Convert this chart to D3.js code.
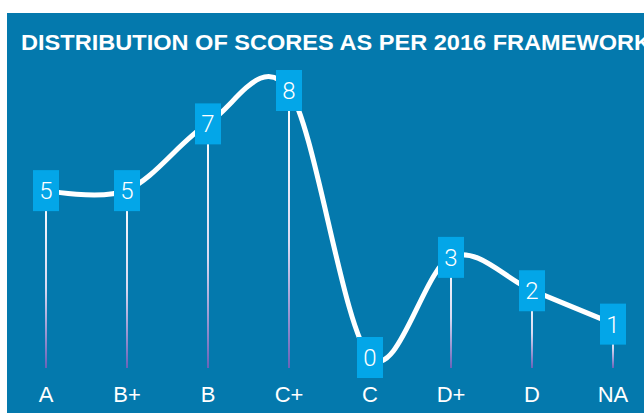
<!DOCTYPE html>
<html lang="en">

<head>
  <title>Distribution of scores</title>
  <script src="https://cdn.jsdelivr.net/npm/d3@7"></script>
  <style>
    body { margin: 0; background: #fff; }
    svg { display: block; }
  </style>
</head>

<body>
  <script>
    var grades = ["A", "B+", "B", "C+", "C", "D+", "D", "NA"];
    var counts = [5, 5, 7, 8, 0, 3, 2, 1];
    var title = "DISTRIBUTION OF SCORES AS PER 2016 FRAMEWORK";

    var w = 644;
    var h = 413;

    var x = d3.scalePoint()
      .domain(grades)
      .range([46, 613]);
    var y = d3.scaleLinear()
      .domain([0, 8])
      .range([357, 90]);
    var baseY = 368;

    var svg = d3.select("body").append("svg")
      .attr("width", w)
      .attr("height", h);

    var defs = svg.append("defs");
    var grad = defs.append("linearGradient")
      .attr("id", "stem")
      .attr("x1", 0).attr("y1", 0)
      .attr("x2", 0).attr("y2", 1);
    grad.append("stop").attr("offset", "0%").attr("stop-color", "#ffffff");
    grad.append("stop").attr("offset", "55%").attr("stop-color", "#d8daf2");
    grad.append("stop").attr("offset", "100%").attr("stop-color", "#6a62b8");

    // panel
    svg.append("rect")
      .attr("x", 7)
      .attr("y", 13)
      .attr("width", w - 7)
      .attr("height", h - 13)
      .attr("fill", "#0479ad");

    svg.append("text")
      .attr("x", 21)
      .attr("y", 50)
      .attr("fill", "#fff")
      .attr("font-family", "'Liberation Sans', Arial, sans-serif")
      .attr("font-weight", "bold")
      .attr("font-size", 22.5)
      .attr("textLength", 630)
      .attr("lengthAdjust", "spacingAndGlyphs")
      .text(title);

    var data = grades.map(function (g, i) { return { grade: g, value: counts[i] }; });

    // stems
    svg.selectAll(".stem")
      .data(data)
      .enter()
      .append("rect")
      .classed("stem", true)
      .attr("x", function (d) { return x(d.grade) - 1; })
      .attr("y", function (d) { return y(d.value); })
      .attr("width", 2)
      .attr("height", function (d) { return Math.max(0, baseY - y(d.value)); })
      .attr("fill", "url(#stem)");

    var line = d3.line()
      .x(function (d) { return x(d.grade); })
      .y(function (d) { return y(d.value); })
      .curve(d3.curveCardinal);

    svg.append("path")
      .datum(data)
      .attr("d", line)
      .attr("fill", "none")
      .attr("stroke", "#fff")
      .attr("stroke-width", 5);

    var boxes = svg.selectAll(".box")
      .data(data)
      .enter()
      .append("g")
      .classed("box", true)
      .attr("transform", function (d) {
        return "translate(" + x(d.grade) + "," + y(d.value) + ")";
      });
    boxes.append("rect")
      .attr("x", -13)
      .attr("y", -20)
      .attr("width", 26)
      .attr("height", 41)
      .attr("fill", "#03a6e8");
    boxes.append("text")
      .attr("y", 9)
      .attr("text-anchor", "middle")
      .attr("fill", "#fff")
      .attr("font-family", "Roboto, 'Liberation Sans', sans-serif")
      .attr("font-weight", 300)
      .attr("font-size", 24)
      .text(function (d) { return d.value; });

    svg.selectAll(".xlabel")
      .data(grades)
      .enter()
      .append("text")
      .classed("xlabel", true)
      .attr("x", function (d) { return x(d); })
      .attr("y", 402)
      .attr("text-anchor", "middle")
      .attr("fill", "#fff")
      .attr("font-family", "'Liberation Sans', Arial, sans-serif")
      .attr("font-size", 22)
      .text(function (d) { return d; });
  </script>
</body>

</html>
